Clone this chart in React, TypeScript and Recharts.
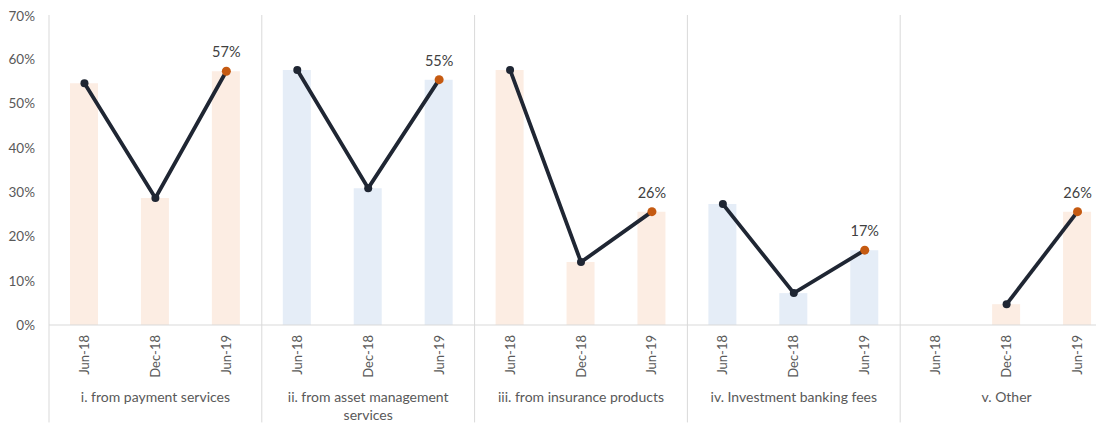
import React from 'react';
import { ComposedChart, Bar, Line, XAxis, YAxis, Cell, LabelList, ReferenceLine } from 'recharts';

const periods = ['Jun-18', 'Dec-18', 'Jun-19'];
const groupNames = [
  'i. from payment services',
  'ii. from asset management services',
  'iii. from insurance products',
  'iv. Investment banking fees',
  'v. Other',
];

// share (%) per period, one array per group
const paymentServices = [54.6, 28.7, 57.3];
const assetManagement = [57.6, 30.9, 55.4];
const insuranceProducts = [57.6, 14.2, 25.6];
const investmentBanking = [27.3, 7.2, 16.9];
const other = [null, 4.7, 25.6];

const groupValues = [paymentServices, assetManagement, insuranceProducts, investmentBanking, other];
const yTicks = [0, 10, 20, 30, 40, 50, 60, 70];

const PEACH = '#fcede3';
const BLUE = '#e5edf7';
const NAVY = '#1f2633';
const ORANGE = '#c55a11';
const GRID = '#d9d9d9';
const TEXT = '#595959';

const data = groupValues.flatMap((vals, g) =>
  vals.map((v, p) => {
    const row: any = { x: g * 3 + p, group: g, period: p, value: v };
    groupValues.forEach((_, k) => {
      row['g' + k] = k === g ? v : null;
    });
    return row;
  })
);

const xTicks = data.map((d) => d.x);
const separators = [...groupNames.map((_, g) => g * 3 - 0.5), groupNames.length * 3 - 0.5];

function wrap(text: string, max: number) {
  const words = text.split(' ');
  const lines: string[] = [];
  let cur = '';
  words.forEach((w) => {
    const next = cur ? cur + ' ' + w : w;
    if (next.length > max && cur) {
      lines.push(cur);
      cur = w;
    } else {
      cur = next;
    }
  });
  if (cur) lines.push(cur);
  return lines;
}

const XTick = (props: any) => {
  const { x, y, payload } = props;
  const i = payload.value;
  const p = i % 3;
  const g = Math.floor(i / 3);
  const lines = p === 1 ? wrap(groupNames[g], 30) : [];
  return (
    <g>
      <text
        transform={`translate(${x},${y + 2}) rotate(-90)`}
        textAnchor="end"
        dy="0.35em"
        fontSize={13}
        fill={TEXT}
      >
        {periods[p]}
      </text>
      {lines.map((l, k) => (
        <text key={k} x={x} y={y + 64 + k * 18} textAnchor="middle" dy="0.35em" fontSize={14} fill={TEXT}>
          {l}
        </text>
      ))}
    </g>
  );
};

const renderDot = (props: any) => {
  const { cx, cy, index, payload } = props;
  if (typeof cy !== 'number' || isNaN(cy) || payload == null) return <g key={'d' + index} />;
  const last = payload.period === 2;
  return <circle key={'d' + index} cx={cx} cy={cy} r={last ? 4.5 : 4} fill={last ? ORANGE : NAVY} />;
};

const renderLabel = (props: any) => {
  const { x, y, value, index } = props;
  if (value == null || data[index]?.period !== 2) return null;
  return (
    <text x={x} y={y - 14} textAnchor="middle" fontSize={14.5} fill="#404040">
      {Math.round(value)}%
    </text>
  );
};

export default function App() {
  return (
    <div style={{ width: 1096, height: 415, overflow: 'hidden', fontFamily: 'Lato, "Liberation Sans", sans-serif' }}>
      <ComposedChart width={1105} height={415} data={data} margin={{ top: 7, right: 0, bottom: 0, left: 0 }}>
        <XAxis
          type="number"
          dataKey="x"
          domain={[-0.5, 14.5]}
          ticks={xTicks}
          interval={0}
          height={98}
          axisLine={{ stroke: GRID }}
          tickLine={false}
          tick={<XTick />}
        />
        <YAxis
          domain={[0, 70]}
          ticks={yTicks}
          tickFormatter={(v) => v + '%'}
          axisLine={false}
          tickLine={false}
          width={41}
          tickMargin={8}
          tick={{ fill: TEXT, fontSize: 13.5 }}
        />
        {separators.map((s) => (
          <ReferenceLine
            key={s}
            segment={[
              { x: s, y: 70 },
              { x: s, y: -22 },
            ]}
            ifOverflow="visible"
            stroke={GRID}
            strokeWidth={1}
          />
        ))}
        <Bar dataKey="value" barSize={28} isAnimationActive={false}>
          {data.map((d) => (
            <Cell key={d.x} fill={d.group % 2 === 0 ? PEACH : BLUE} />
          ))}
        </Bar>
        {groupValues.map((_, k) => (
          <Line
            key={k}
            dataKey={'g' + k}
            stroke={NAVY}
            strokeWidth={3.8}
            dot={renderDot}
            activeDot={false}
            connectNulls={false}
            isAnimationActive={false}
          >
            <LabelList dataKey={'g' + k} content={renderLabel} />
          </Line>
        ))}
      </ComposedChart>
    </div>
  );
}
